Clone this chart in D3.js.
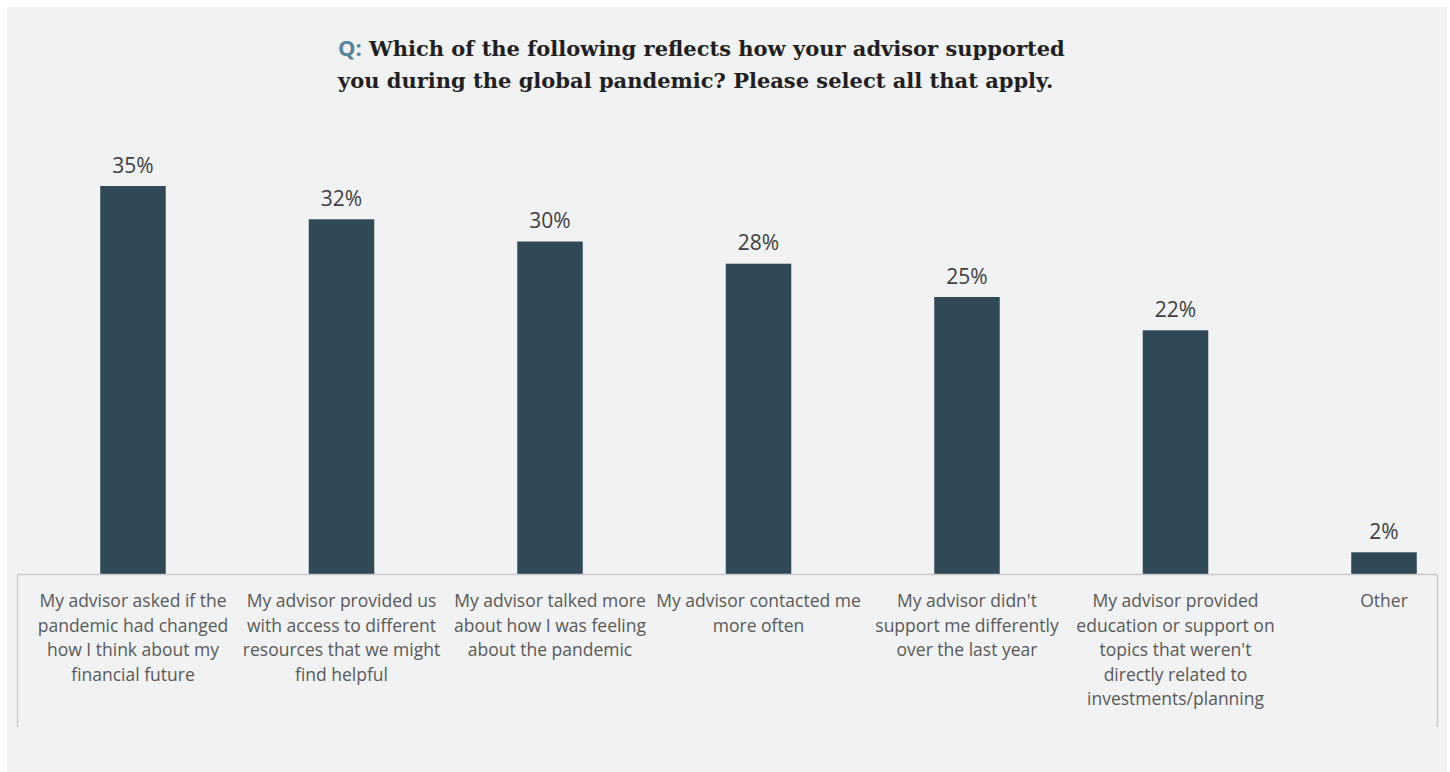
<!DOCTYPE html>
<html>
<head>
<meta charset="utf-8">
<script src="https://cdn.jsdelivr.net/npm/d3@7"></script>
<style>
  html, body { margin: 0; padding: 0; background: #ffffff; }
  svg { display: block; }
</style>
</head>
<body>
<svg id="chart" width="1450" height="772"></svg>
<script>
// Survey responses: how advisors supported clients during the pandemic
const categories = [
  "My advisor asked if the\npandemic had changed\nhow I think about my\nfinancial future",
  "My advisor provided us\nwith access to different\nresources that we might\nfind helpful",
  "My advisor talked more\nabout how I was feeling\nabout the pandemic",
  "My advisor contacted me\nmore often",
  "My advisor didn't\nsupport me differently\nover the last year",
  "My advisor provided\neducation or support on\ntopics that weren't\ndirectly related to\ninvestments/planning",
  "Other"
];
const values = [35, 32, 30, 28, 25, 22, 2];
const titleLines = [
  ["Q:", " Which of the following reflects how your advisor supported"],
  ["", "you during the global pandemic? Please select all that apply."]
];

const svg = d3.select("#chart");

// panel background
svg.append("rect")
  .attr("x", 7).attr("y", 7)
  .attr("width", 1440).attr("height", 765)
  .attr("fill", "#f1f2f4");

// title
const title = svg.append("text")
  .attr("font-family", "'DejaVu Serif', serif")
  .attr("font-weight", "bold")
  .attr("font-size", 21)
  .attr("fill", "#231f20");
titleLines.forEach((ln, i) => {
  const t = title.append("tspan").attr("x", 338).attr("y", 56 + i * 32);
  if (ln[0]) t.append("tspan").attr("fill", "#5a8498").attr("font-family", "'Open Sans', sans-serif").attr("font-size", 22).text(ln[0]);
  t.append("tspan").text(ln[1]);
});

// scales
const baseY = 574.5;
const x = d3.scalePoint()
  .domain(categories)
  .range([133, 1384]);
const y = d3.scaleLinear()
  .domain([0, 35])
  .range([baseY, 186]);
const barW = 65.5;

// bars
svg.append("g").selectAll("rect")
  .data(values)
  .join("rect")
  .attr("x", (d, i) => x(categories[i]) - barW / 2)
  .attr("y", d => y(d))
  .attr("width", barW)
  .attr("height", d => y(0) - y(d))
  .attr("fill", "#304954");

// value labels
svg.append("g").selectAll("text")
  .data(values)
  .join("text")
  .attr("x", (d, i) => x(categories[i]))
  .attr("y", d => y(d) - 13.5)
  .attr("text-anchor", "middle")
  .attr("font-family", "'Open Sans', sans-serif")
  .attr("font-size", 21)
  .attr("fill", "#404040")
  .text(d => d + "%");

// category axis: baseline plus end bars
const axis = svg.append("g")
  .attr("stroke", "#c9cacc")
  .attr("stroke-width", 1.3)
  .attr("fill", "none");
axis.append("line").attr("x1", 17.5).attr("x2", 1437.5).attr("y1", baseY).attr("y2", baseY);
axis.append("line").attr("x1", 17.5).attr("x2", 17.5).attr("y1", baseY).attr("y2", 727);
axis.append("line").attr("x1", 1437.5).attr("x2", 1437.5).attr("y1", baseY).attr("y2", 727);

// category labels
svg.append("g").selectAll("text")
  .data(categories)
  .join("text")
  .attr("text-anchor", "middle")
  .attr("font-family", "'Open Sans', sans-serif")
  .attr("font-size", 17.5)
  .attr("fill", "#595959")
  .each(function (d) {
    const t = d3.select(this);
    d.split("\n").forEach((line, i) => {
      t.append("tspan")
        .attr("x", x(d))
        .attr("y", 607 + i * 24.5)
        .text(line);
    });
  });
</script>
</body>
</html>
